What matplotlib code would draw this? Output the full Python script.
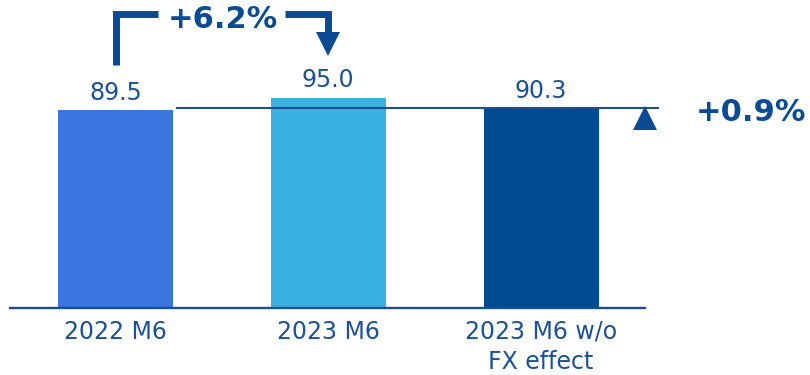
import numpy as np
import matplotlib.pyplot as plt

categories = ['2022 M6', '2023 M6', '2023 M6 w/o\nFX effect']
values = [89.5, 95.0, 90.3]
value_labels = ['89.5', '95.0', '90.3']
growth_yoy = '+6.2%'
growth_fx = '+0.9%'

bar_colors = ['#3c75e0', '#3bb1e2', '#004b91']
text_color = '#1b5196'
accent = '#0a4b94'

fig = plt.figure(figsize=(8.1, 3.75), dpi=100)
ax = fig.add_axes([0, 0, 1, 1])
ax.set_xlim(-0.543, 3.264)
ax.set_ylim(-30.2, 139.0)
ax.axis('off')

x = np.arange(len(categories))
ax.bar(x, values, width=0.54, color=bar_colors, zorder=2)

# baseline under the bars
ax.plot([-0.497, 2.49], [0, 0], color='#1f4e8c', lw=1.7, zorder=3)

for xi, v, lab in zip(x, values, value_labels):
    ax.text(xi, v + 4.6, lab, ha='center', va='baseline', fontsize=17,
            color=text_color)

for xi, cat in zip(x, categories):
    ax.text(xi, -5.2, cat, ha='center', va='top', fontsize=17,
            color=text_color, linespacing=1.32)

# reference line at the FX-adjusted level
ax.plot([0.289, 2.55], [values[2], values[2]], color='#1f4e8c', lw=1.5, zorder=3)
ax.plot([2.489], [85.6], marker='^', markersize=17, color=accent,
        markeredgewidth=0, zorder=4)
ax.text(2.987, 84.5, growth_fx, ha='center', va='baseline', fontsize=22,
        fontweight='bold', color=accent)

# bracket arrow from the first bar to the second
y_top = 132.9
ax.plot([x[0], x[0], 0.2], [109.7, y_top, y_top], color=accent, lw=5.0,
        solid_capstyle='butt', solid_joinstyle='miter')
ax.plot([0.796, x[1], x[1]], [y_top, y_top, 123.5], color=accent, lw=5.0,
        solid_capstyle='butt', solid_joinstyle='miter')
ax.plot([x[1]], [119.3], marker='v', markersize=17, color=accent,
        markeredgewidth=0)
ax.text(0.505, 126.4, growth_yoy, ha='center', va='baseline', fontsize=22,
        fontweight='bold', color=accent)

fig.savefig('out.png', dpi=100)
